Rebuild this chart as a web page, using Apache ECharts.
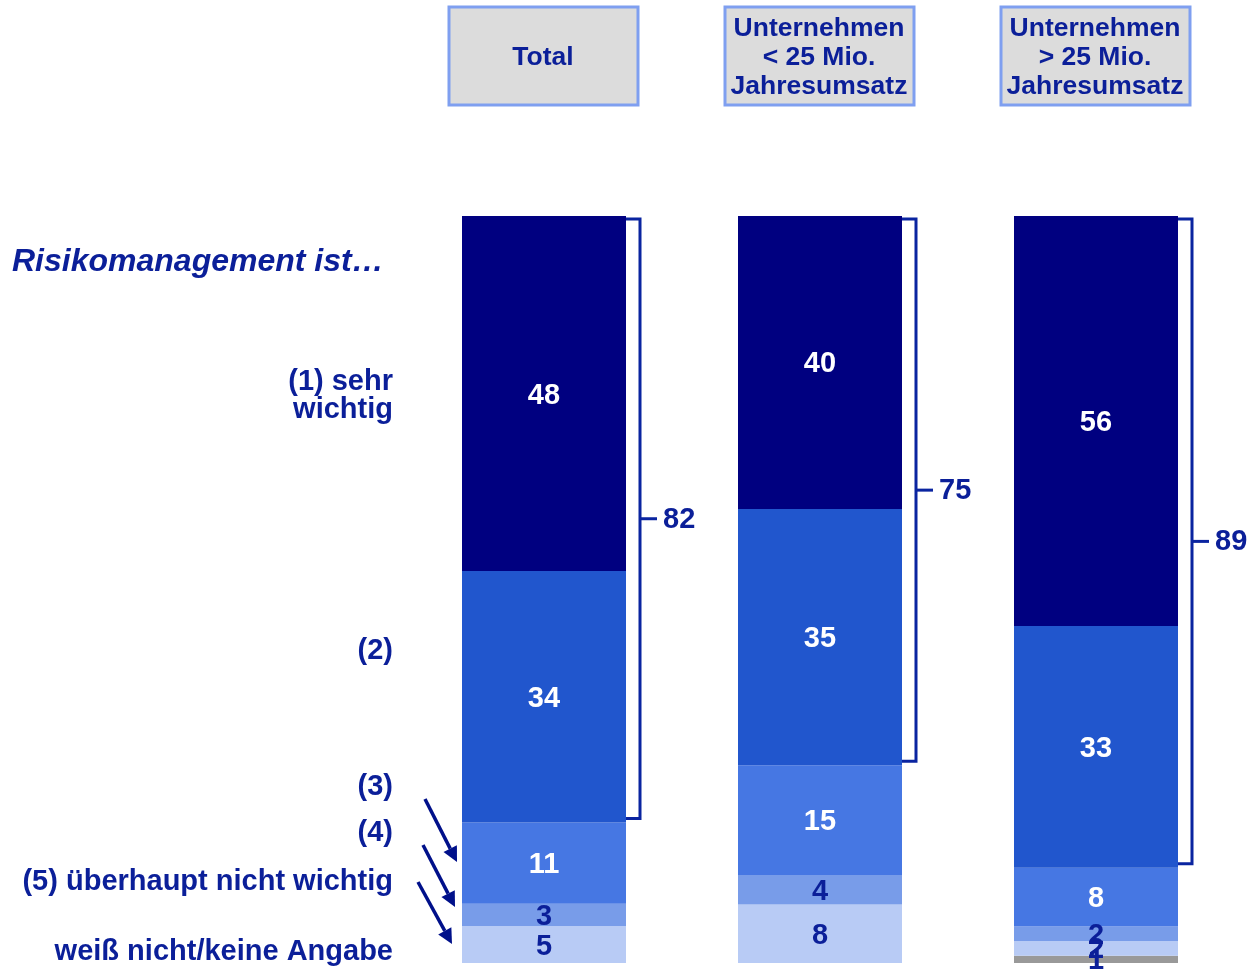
<!DOCTYPE html>
<html>
<head>
<meta charset="utf-8">
<script src="https://cdn.jsdelivr.net/npm/echarts@6/dist/echarts.min.js"></script>
<style>html,body{margin:0;padding:0;background:#fff}#c{width:1249px;height:970px}</style>
</head>
<body>
<div id="c"></div>
<script>
// ---- data ----
const categories = ['Total', 'Unternehmen\n< 25 Mio.\nJahresumsatz', 'Unternehmen\n> 25 Mio.\nJahresumsatz'];
const seriesNames = ['(1) sehr wichtig', '(2)', '(3)', '(4)', '(5) überhaupt nicht wichtig', 'weiß nicht/keine Angabe', 'sonstige'];
const sehrWichtig = [48, 40, 56];
const zwei = [34, 35, 33];
const drei = [11, 15, 8];
const vier = [3, 4, 2];
const weissNicht = [5, 8, 2];
const grau = [null, null, 1];
const topTwo = [82, 75, 89];

// ---- styling ----
const navyText = '#0b1f99';
const FAM = "'Liberation Sans', Arial, sans-serif";
const colors = ['#000080', '#2156cd', '#4677e3', '#789ce9', '#b8cbf5', '#999999'];
const labelColors = ['#ffffff', '#ffffff', '#ffffff', navyText, navyText, navyText];
const stackSeries = [sehrWichtig, zwei, drei, vier, weissNicht, grau];
const barWidth = 164;

const totals = categories.map((_, i) => stackSeries.reduce((s, arr) => s + (arr[i] || 0), 0));

const chart = echarts.init(document.getElementById('c'));

// stacked from the bottom: last category first so that (1) ends up on top
const barSeries = stackSeries.map((arr, si) => ({
  type: 'bar',
  name: seriesNames[si],
  stack: 'all',
  barWidth: barWidth,
  itemStyle: { color: colors[si] },
  label: {
    show: true,
    position: 'inside',
    offset: [0, 2],
    color: labelColors[si],
    fontFamily: FAM,
    fontWeight: 'bold',
    fontSize: 29,
    formatter: p => (p.data && p.data.raw != null ? String(p.data.raw) : '')
  },
  data: arr.map((v, i) => v == null ? null : { value: v / totals[i] * 100, raw: v })
})).reverse();

const bracketData = categories.map((_, i) => [i, 100, 100 - (sehrWichtig[i] + zwei[i]) / totals[i] * 100, topTwo[i]]);

const bracketSeries = {
  type: 'custom',
  silent: true,
  z: 5,
  renderItem: function (params, api) {
    const ci = api.value(0);
    const top = api.coord([ci, api.value(1)]);
    const bot = api.coord([ci, api.value(2)]);
    const barRight = top[0] + barWidth / 2;
    const lx = barRight + 14;
    const y1 = top[1] + 3, y2 = bot[1] - 4;
    const ym = (y1 + y2) / 2;
    const stroke = '#0a24a0';
    return {
      type: 'group',
      children: [
        { type: 'polyline', shape: { points: [[barRight, y1], [lx, y1], [lx, y2], [barRight, y2]] }, style: { stroke: stroke, lineWidth: 3, fill: null } },
        { type: 'line', shape: { x1: lx, y1: ym, x2: lx + 17, y2: ym }, style: { stroke: stroke, lineWidth: 3 } },
        { type: 'text', style: { text: String(api.value(3)), x: lx + 23, y: ym + 1, verticalAlign: 'middle', align: 'left', font: 'bold 29px ' + FAM, fill: navyText } }
      ]
    };
  },
  data: bracketData
};

// left-side annotations
function arrow(x1, y1, x2, y2) {
  const ang = Math.atan2(y2 - y1, x2 - x1);
  const L = 15, W = 7.5;
  const bx = x2 - L * Math.cos(ang), by = y2 - L * Math.sin(ang);
  const px = -Math.sin(ang) * W, py = Math.cos(ang) * W;
  return [
    { type: 'line', shape: { x1: x1, y1: y1, x2: bx, y2: by }, style: { stroke: '#00108a', lineWidth: 3.5 } },
    { type: 'polygon', shape: { points: [[x2, y2], [bx + px, by + py], [bx - px, by - py]] }, style: { fill: '#00108a' } }
  ];
}
function leftText(text, y) {
  return { type: 'text', style: { text: text, x: 393, y: y, align: 'right', verticalAlign: 'middle', font: 'bold 29px ' + FAM, fill: navyText, lineHeight: 28 } };
}

const baseGraphics = [
  { type: 'text', style: { text: 'Risikomanagement ist…', x: 12, y: 262, align: 'left', verticalAlign: 'middle', font: 'italic bold 32px ' + FAM, fill: navyText } },
  leftText('(1) sehr\nwichtig', 396),
  leftText('(2)', 651),
  leftText('(3)', 787),
  leftText('(4)', 833),
  leftText('(5) überhaupt nicht wichtig', 882),
  leftText('weiß nicht/keine Angabe', 952)
].concat(arrow(425, 799, 457, 862), arrow(423, 845, 455, 907), arrow(418, 882, 452, 944));

chart.setOption({
  animation: false,
  textStyle: { fontFamily: FAM },
  grid: { left: 406, right: 15, top: 216, bottom: 7, containLabel: false },
  xAxis: {
    type: 'category',
    data: categories,
    axisLine: { show: false },
    axisTick: { show: false },
    axisLabel: { show: false }
  },
  yAxis: { type: 'value', min: 0, max: 100, show: false, splitLine: { show: false } },
  series: barSeries.concat([bracketSeries]),
  graphic: baseGraphics
});

// header boxes placed above each category column
const headerGraphics = categories.map((c, i) => {
  const x = chart.convertToPixel({ xAxisIndex: 0 }, i);
  return {
    type: 'group',
    children: [
      { type: 'rect', shape: { x: x - 95, y: 7, width: 189, height: 98 }, style: { fill: '#dcdcdc', stroke: '#7f9ff0', lineWidth: 3 } },
      { type: 'text', style: { text: c, x: x - 1, y: 58, align: 'center', verticalAlign: 'middle', font: 'bold 26.5px ' + FAM, fill: navyText, lineHeight: 29 } }
    ]
  };
});
chart.setOption({ graphic: baseGraphics.concat(headerGraphics) });
</script>
</body>
</html>
